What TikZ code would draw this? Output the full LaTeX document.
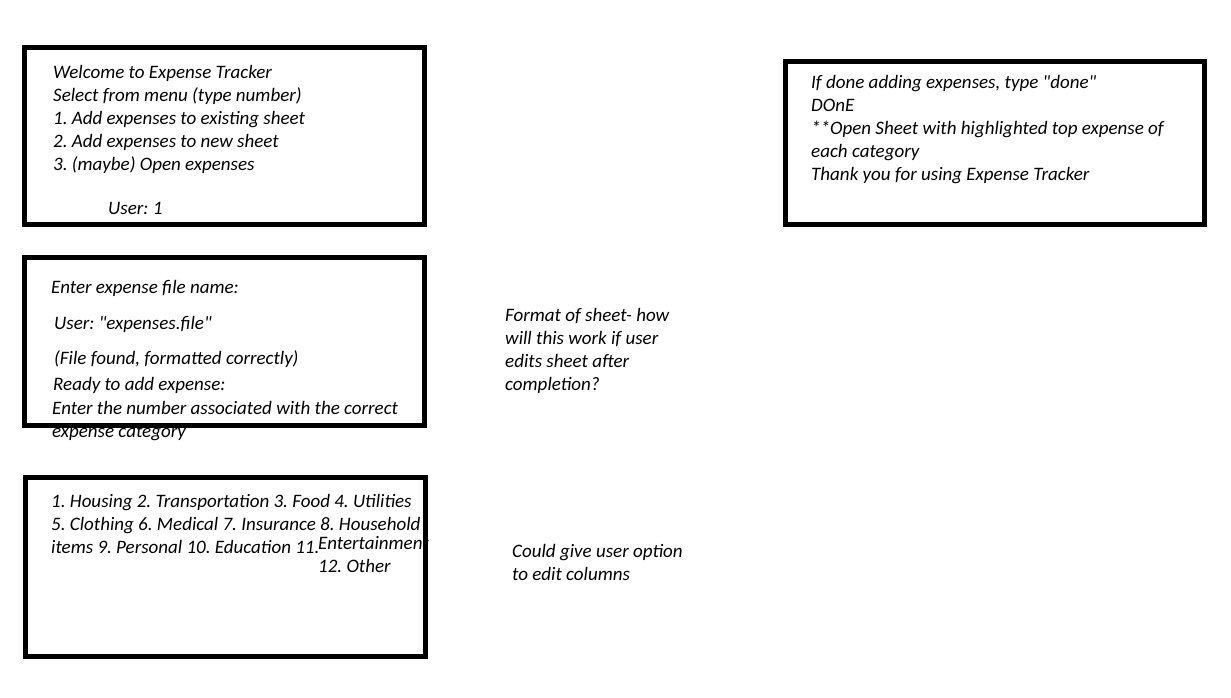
\documentclass[tikz,border=0pt]{standalone}
\usepackage{fontspec}
\setmainfont{Carlito}
\frenchspacing
\tikzset{
  screen/.style={line width=5pt},
  say/.style={anchor=base west, inner sep=0pt, font=\fontsize{19}{23}\selectfont\itshape},
}
\begin{document}
\begin{tikzpicture}[x=1pt,y=-1pt]
  \useasboundingbox (0,0) rectangle (1231,697);
  % menu screen
  \foreach \txt [count=\i] in {Welcome to Expense Tracker, Select from menu (type number),
    1. Add expenses to existing sheet, 2. Add expenses to new sheet, 3. (maybe) Open expenses}{
    \node[say] (menu\i) at (53,55+23*\i) {\txt};
  }
  \node[say] (menuuser) at (108,214) {User: 1};
  \draw[screen] (24.8,47.5) rectangle (424.8,224.8);
  % file screen
  \node[say] (file1) at (51,293) {Enter expense file name:};
  \node[say] (file2) at (54,329) {User: \textquotedbl expenses.file\textquotedbl};
  \node[say] (file3) at (54,364) {(File found, formatted correctly)};
  \node[say] (file4) at (53,390) {Ready to add expense:};
  \node[say] (file5) at (52,414) {Enter the number associated with the correct};
  \node[say] (file6) at (52,437) {expense category};
  \draw[screen] (24.8,257.5) rectangle (424.8,425.3);
  % category screen
  \foreach \txt [count=\i] in {1. Housing 2. Transportation 3. Food 4. Utilities,
    5. Clothing 6. Medical 7. Insurance 8. Household,
    items 9. Personal 10. Education 11.}{
    \node[say] (cat\i) at (51,484+23*\i) {\txt};
  }
  \node[say] (catent) at (318,549) {Entertainment};
  \node[say] (catother) at (318,572) {12. Other};
  \draw[screen] (25.5,477.5) rectangle (425.5,656.5);
  % done screen
  \foreach \txt [count=\i] in {{If done adding expenses, type \textquotedbl done\textquotedbl}, DOnE,
    **Open Sheet with highlighted top expense of, each category,
    Thank you for using Expense Tracker}{
    \node[say] (done\i) at (811,65+23*\i) {\txt};
  }
  \draw[screen] (785.8,61.5) rectangle (1204.8,224.8);
  % notes
  \foreach \txt [count=\i] in {Format of sheet- how, will this work if user,
    edits sheet after, completion?}{
    \node[say] (noteformat\i) at (505,298+23*\i) {\txt};
  }
  \node[say] (noteedit1) at (512,557) {Could give user option};
  \node[say] (noteedit2) at (512,580) {to edit columns};
\end{tikzpicture}
\end{document}
